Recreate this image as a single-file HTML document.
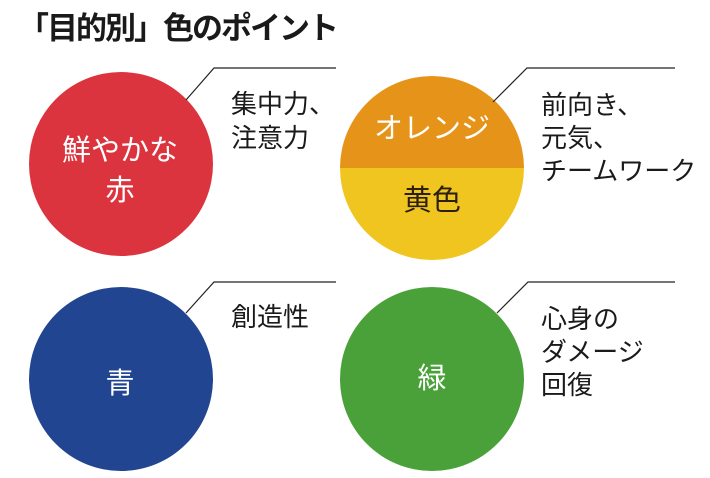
<!DOCTYPE html>
<html><head><meta charset="utf-8"><style>
html,body{margin:0;padding:0;background:#fff;}
body{width:710px;height:478px;position:relative;overflow:hidden;font-family:"Liberation Sans","Noto Sans CJK JP",sans-serif;}
svg{position:absolute;left:0;top:0;}
</style></head><body>
<svg width="710" height="478" viewBox="0 0 710 478">
<defs><clipPath id="oc"><circle cx="432" cy="168" r="92"/></clipPath></defs>
<text x="18" y="39" font-size="31" font-weight="bold" fill="#1a1a1a" letter-spacing="-2" font-family="Noto Sans CJK JP, sans-serif">「目的別」色のポイント</text>
<circle cx="121" cy="164" r="92" fill="#dc343f"/>
<g clip-path="url(#oc)">
<rect x="330" y="70" width="210" height="98" fill="#e69419"/>
<rect x="330" y="168" width="210" height="100" fill="#f1c520"/>
</g>
<circle cx="121" cy="379" r="92" fill="#224591"/>
<circle cx="432" cy="379" r="92" fill="#4aa139"/>
<g stroke="#222" stroke-width="1.2" fill="none">
<polyline points="186,100 214,68 336,68"/>
<polyline points="493,102 527,68 675,68"/>
<polyline points="186,313 214,282 336,282"/>
<polyline points="497,313 528,282 675,282"/>
</g>
<g font-family="Noto Sans CJK JP, sans-serif" text-anchor="middle" fill="#fff" font-size="29">
<text x="120" y="160">鮮やかな</text>
<text x="120" y="200">赤</text>
<text x="432" y="138">オレンジ</text>
<text x="432" y="210" fill="#2a1f10">黄色</text>
<text x="120" y="393">青</text>
<text x="432" y="388">緑</text>
</g>
<g font-family="Noto Sans CJK JP, sans-serif" fill="#1a1a1a" font-size="26">
<text x="231" y="113">集中力、</text>
<text x="231" y="147">注意力</text>
<text x="541" y="114">前向き、</text>
<text x="541" y="147">元気、</text>
<text x="541" y="180">チームワーク</text>
<text x="231" y="326">創造性</text>
<text x="541" y="328">心身の</text>
<text x="541" y="361">ダメージ</text>
<text x="541" y="394">回復</text>
</g>
</svg>
</body></html>
